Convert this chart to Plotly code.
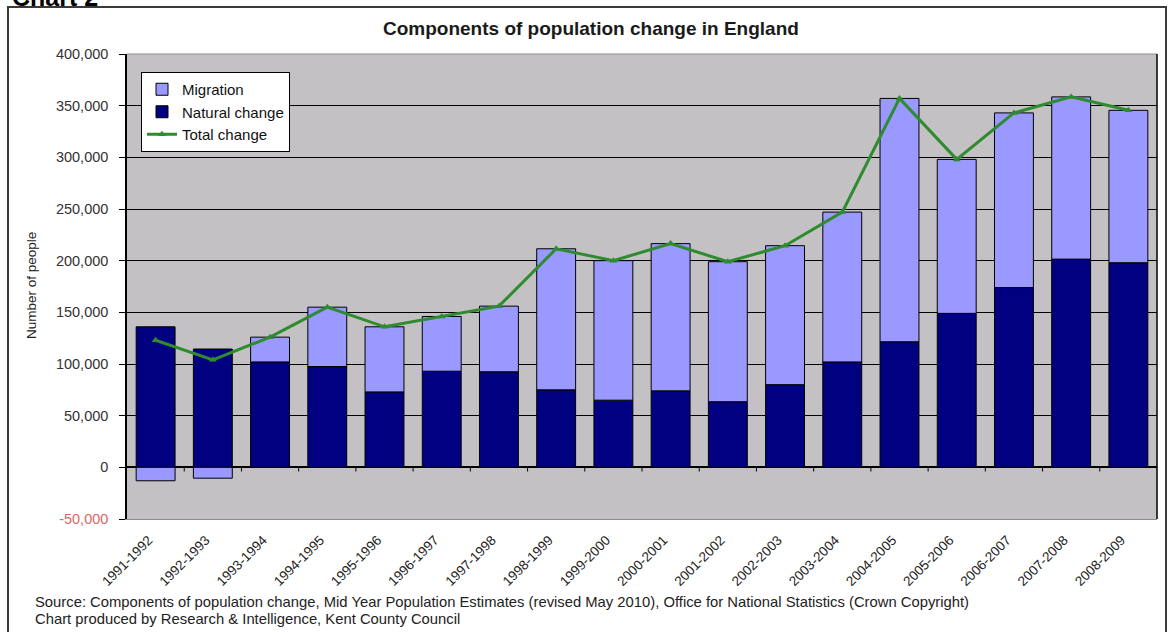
import plotly.graph_objects as go

periods = ["1991-1992", "1992-1993", "1993-1994", "1994-1995", "1995-1996", "1996-1997",
           "1997-1998", "1998-1999", "1999-2000", "2000-2001", "2001-2002", "2002-2003",
           "2003-2004", "2004-2005", "2005-2006", "2006-2007", "2007-2008", "2008-2009"]
natural_change = [136000, 114500, 102000, 97500, 73000, 93000, 92500, 75000, 65000,
                  74000, 63500, 80000, 102000, 121500, 149000, 174000, 201500, 198000]
migration = [-13000, -10500, 24000, 57500, 63000, 53000, 63500, 136500, 135000,
             142500, 135500, 134500, 145000, 235500, 149000, 169000, 157000, 147500]
total_change = [123000, 104000, 126000, 155000, 136000, 146000, 156000, 211500, 200000,
                216500, 199000, 214500, 247000, 357000, 298000, 343000, 358500, 345500]
y_tick_values = [-50000, 0, 50000, 100000, 150000, 200000, 250000, 300000, 350000, 400000]
y_tick_labels = ["<span style='color:#E06666'>-50,000</span>", "0", "50,000", "100,000",
                 "150,000", "200,000", "250,000", "300,000", "350,000", "400,000"]

FONT = "Liberation Sans, Arial, sans-serif"

fig = go.Figure()
fig.add_trace(go.Bar(
    x=periods, y=natural_change, name="Natural change", legendrank=2,
    marker=dict(color="#000080", line=dict(color="#000000", width=1)),
))
fig.add_trace(go.Bar(
    x=periods, y=migration, name="Migration", legendrank=1,
    marker=dict(color="#9999FF", line=dict(color="#000000", width=1)),
))
fig.add_trace(go.Scatter(
    x=periods, y=total_change, name="Total change", legendrank=3, mode="lines+markers",
    line=dict(color="#2E8B2E", width=3),
    marker=dict(symbol="triangle-up", size=7, color="#2E8B2E"),
))

# plot area in pixels: x 127..1157, y 54..519
L, R, T, B = 127, 1157, 54, 519
W, H = R - L, B - T
def px(x):
    return (x - L) / W
def py(y):
    return (B - y) / H

shapes = []
# category boundary ticks on the zero line
for i in range(1, len(periods)):
    shapes.append(dict(type="line", xref="x", yref="y", x0=i - 0.5, x1=i - 0.5,
                       y0=0, y1=-4000, line=dict(color="#000000", width=1)))
# top edge of plot area (grey)
shapes.append(dict(type="line", xref="paper", yref="paper", x0=0, x1=1, y0=1, y1=1,
                   line=dict(color="#8C8C8C", width=1)))
# right edge of plot area
shapes.append(dict(type="line", xref="paper", yref="paper", x0=1, x1=1, y0=0, y1=1,
                   line=dict(color="#000000", width=1.5)))
# outer chart frame
shapes.append(dict(type="rect", xref="paper", yref="paper", x0=px(8), x1=px(1166),
                   y0=py(660), y1=py(7), line=dict(color="#3A3A3A", width=2),
                   fillcolor="rgba(0,0,0,0)", layer="below"))

annotations = [
    dict(text="<b>Chart 2</b>", xref="paper", yref="paper", x=px(10), y=py(-3),
         xanchor="left", yanchor="middle", showarrow=False,
         font=dict(family=FONT, size=25, color="#000000")),
    dict(text="<b>Components of population change in England</b>", xref="paper", yref="paper",
         x=px(591), y=py(28), xanchor="center", yanchor="middle", showarrow=False,
         font=dict(family=FONT, size=19, color="#1A1A1A")),
    dict(text="Number of people", xref="paper", yref="paper", x=px(31), y=py(286),
         xanchor="center", yanchor="middle", textangle=-90, showarrow=False,
         font=dict(family=FONT, size=13.5, color="#222222")),
    dict(text="Source: Components of population change, Mid Year Population Estimates (revised May 2010), "
              "Office for National Statistics (Crown Copyright)",
         xref="paper", yref="paper", x=px(33), y=py(602), xanchor="left", yanchor="middle",
         showarrow=False, font=dict(family=FONT, size=14.8, color="#222222")),
    dict(text="Chart produced by Research &amp; Intelligence, Kent County Council",
         xref="paper", yref="paper", x=px(33), y=py(619), xanchor="left", yanchor="middle",
         showarrow=False, font=dict(family=FONT, size=14.8, color="#222222")),
]

fig.update_layout(
    width=1170, height=632,
    margin=dict(l=L, r=1170 - R, t=T, b=632 - B, autoexpand=False),
    paper_bgcolor="#FFFFFF",
    plot_bgcolor="#C4C1C4",
    barmode="relative",
    bargap=0.32,
    showlegend=True,
    legend=dict(x=px(141), y=py(72), xanchor="left", yanchor="top",
                bgcolor="#FFFFFF", bordercolor="#000000", borderwidth=1,
                font=dict(family=FONT, size=15, color="#111111"),
                itemwidth=30, tracegroupgap=0),
    font=dict(family=FONT),
    shapes=shapes,
    annotations=annotations,
    xaxis=dict(
        type="category", tickangle=-45, showgrid=False, ticks="",
        showline=True, linecolor="#8C8C8C", linewidth=1,
        tickfont=dict(family=FONT, size=13.5, color="#222222"),
        ticklabelstandoff=7, ticklabelshift=-7,
        range=[-0.5, len(periods) - 0.5],
    ),
    yaxis=dict(
        range=[-50000, 400000], tickvals=y_tick_values, ticktext=y_tick_labels,
        showgrid=True, gridcolor="#000000", gridwidth=1,
        zeroline=True, zerolinecolor="#000000", zerolinewidth=1.5,
        showline=True, linecolor="#000000", linewidth=1.5,
        ticks="outside", ticklen=6, tickcolor="#000000",
        ticklabelstandoff=8,
        tickfont=dict(family=FONT, size=14.5, color="#333333"),
    ),
)

fig.write_html("out.html")
